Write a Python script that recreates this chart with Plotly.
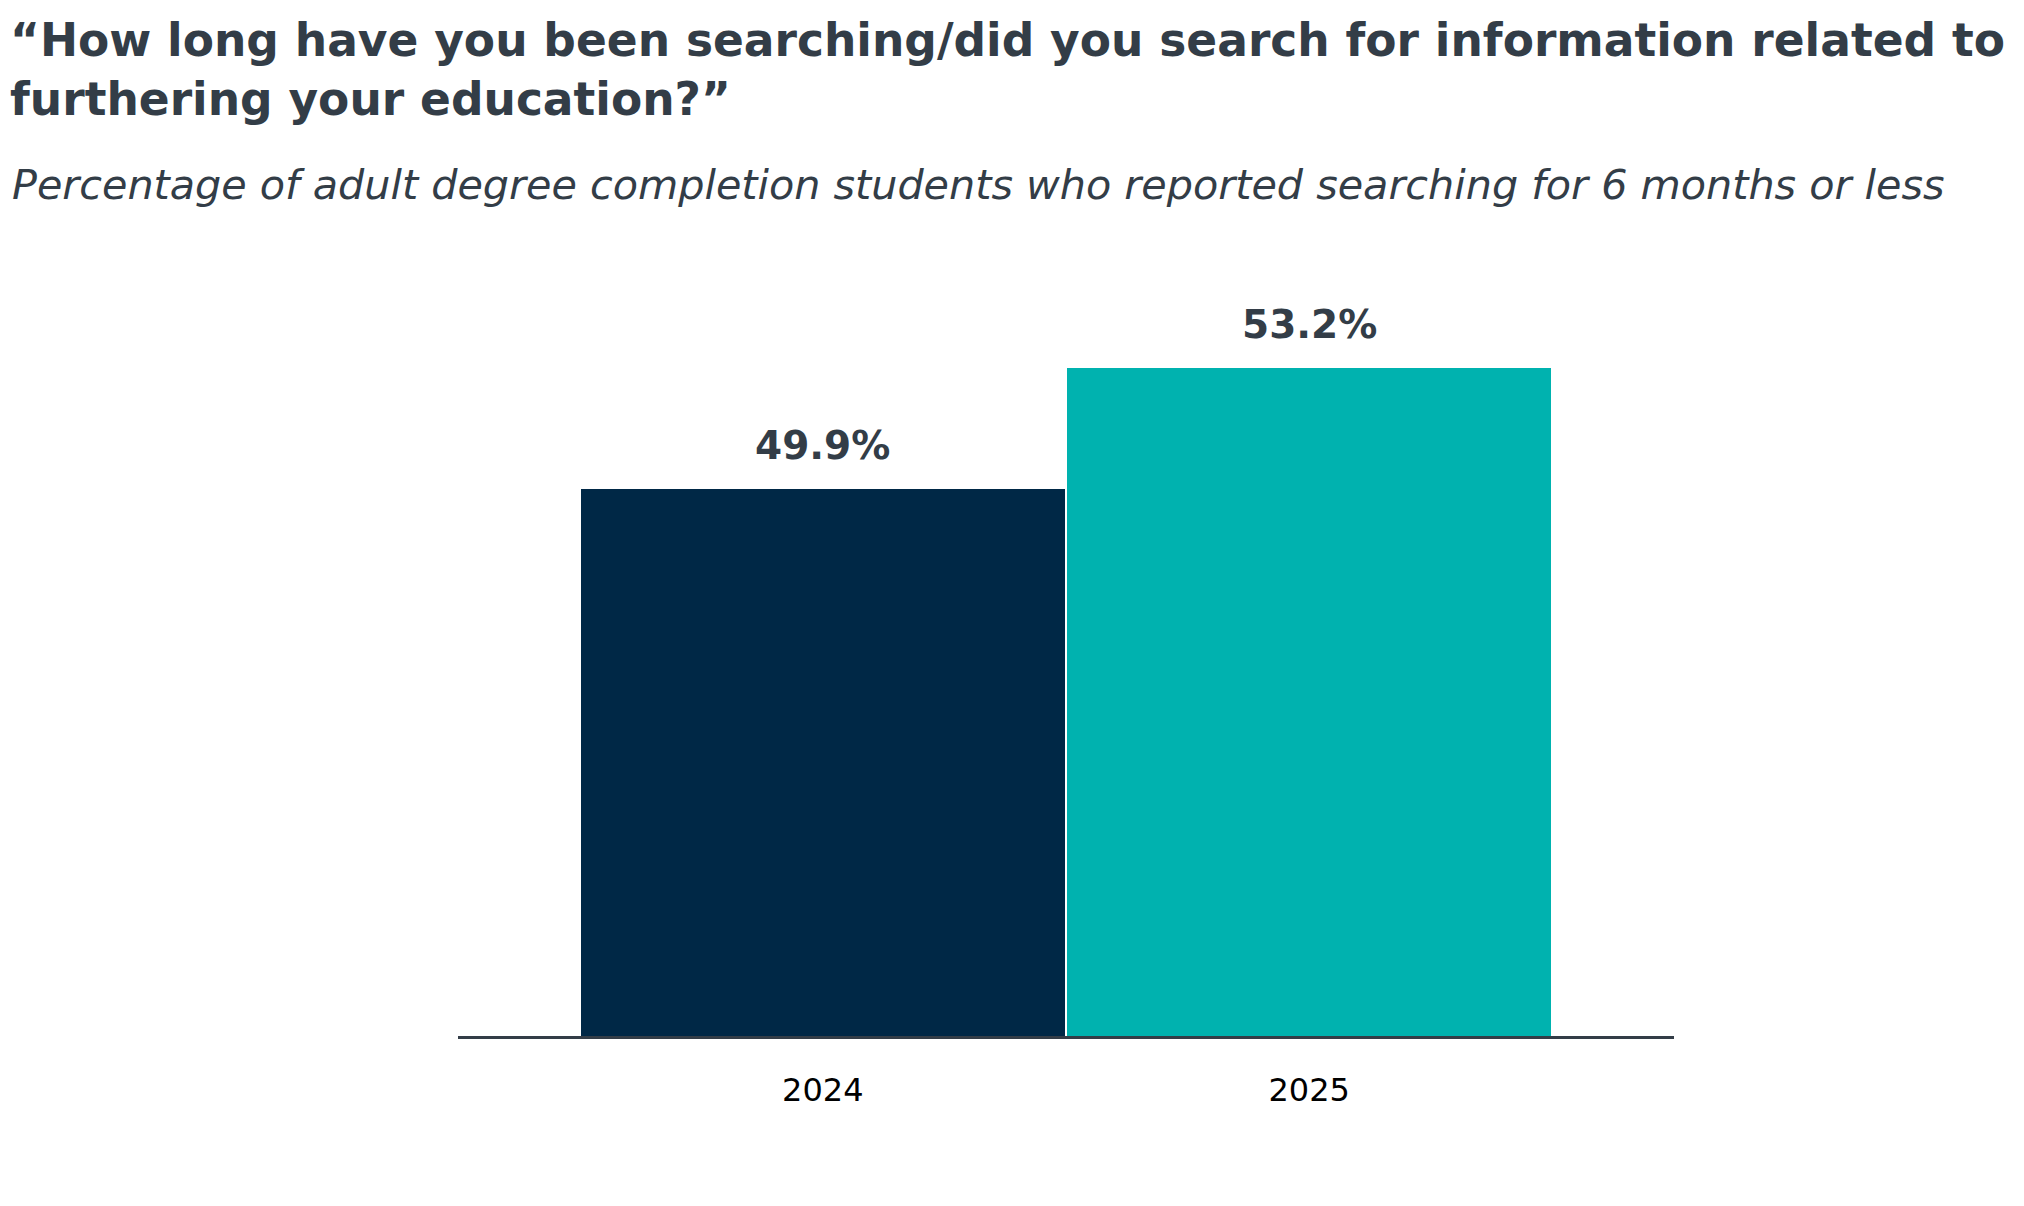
import plotly.graph_objects as go

# data
years = ["2024", "2025"]
share_6mo_or_less = [49.9, 53.2]
bar_colors = ["#002846", "#00B2AF"]

title_text = ("\u201cHow long have you been searching/did you search for information related to<br>"
              "furthering your education?\u201d")
subtitle_text = "Percentage of adult degree completion students who reported searching for 6 months or less"

ink = "#333D47"
W, H = 2024, 1206
# the page puts an 8px body margin round the figure, so everything is nudged back by 8px
m_l, m_r, m_t, m_b = 450, 358, 257, 178
plot_h = H - m_t - m_b
plot_w = W - m_l - m_r

fig = go.Figure()
fig.add_trace(go.Bar(
    x=years,
    y=share_6mo_or_less,
    base=0,
    width=0.994,
    marker=dict(color=bar_colors, line=dict(width=0)),
    hoverinfo="skip",
))

# value labels above bars (category index for x, else "2024" is read as a number)
for i, v in enumerate(share_6mo_or_less):
    fig.add_annotation(
        x=i, y=v, text=f"<b>{v:.1f}%</b>", showarrow=False,
        xanchor="center", yanchor="bottom", yshift=19,
        font=dict(family="DejaVu Sans", size=39, color=ink),
    )

# subtitle
fig.add_annotation(
    xref="paper", yref="paper",
    x=(2 - m_l) / plot_w, y=1 + (m_t - 177) / plot_h,
    xanchor="left", yanchor="middle",
    text=f"<i>{subtitle_text}</i>", showarrow=False,
    font=dict(family="DejaVu Sans", size=41.3, color=ink),
)

fig.update_layout(
    width=W, height=H,
    margin=dict(l=m_l, r=m_r, t=m_t, b=m_b, pad=0),
    plot_bgcolor="white", paper_bgcolor="white",
    showlegend=False,
    bargap=0,
    title=dict(
        text=f"<b>{title_text}</b>",
        x=2 / W, xanchor="left", xref="container",
        y=1 - 48 / H, yanchor="top", yref="container",
        font=dict(family="DejaVu Sans", size=45.5, color=ink),
    ),
    xaxis=dict(
        type="category", range=[-0.75, 1.75],
        showline=True, linecolor=ink, linewidth=3,
        showgrid=False, zeroline=False, ticks="",
        ticklabelstandoff=24,
        tickfont=dict(family="DejaVu Sans", size=32, color="black"),
        fixedrange=True,
    ),
    yaxis=dict(
        range=[35, 56], visible=False, showgrid=False, zeroline=False,
        fixedrange=True,
    ),
)

fig.write_html("out.html")
